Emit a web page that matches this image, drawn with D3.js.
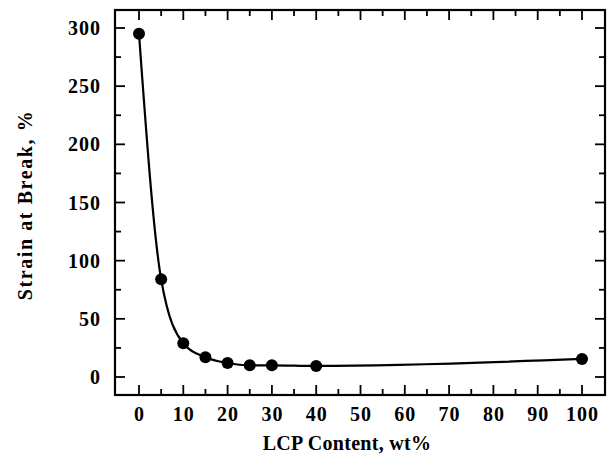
<!DOCTYPE html>
<html>
<head>
<meta charset="utf-8">
<script src="https://cdn.jsdelivr.net/npm/d3@7"></script>
<style>
  html, body { margin: 0; padding: 0; background: #fff; }
  svg text { font-family: "Liberation Serif", "DejaVu Serif", serif; font-weight: bold; fill: #000; }
</style>
</head>
<body>
<svg id="chart" width="613" height="467"></svg>
<script>
// LCP content (wt%) and strain at break (%)
const lcpContent = [0, 5, 10, 15, 20, 25, 30, 40, 100];
const strainAtBreak = [295, 84, 29, 17, 12, 10, 10, 9.5, 15.5];
const xTickValues = [0, 10, 20, 30, 40, 50, 60, 70, 80, 90, 100];
const yTickValues = [0, 50, 100, 150, 200, 250, 300];

const svg = d3.select("#chart");
const frame = { left: 115, right: 605, top: 10, bottom: 395 };

const x = d3.scaleLinear().domain([0, 100]).range([139, 582]);
const y = d3.scaleLinear().domain([0, 300]).range([377, 28]);

const xMinor = d3.range(5, 100, 10);
const yMinor = d3.range(25, 300, 50);

const g = svg.append("g");

// inward ticks on all four sides
function vTicks(vals, len, yEdge, dir) {
  g.selectAll(null).data(vals).enter().append("line")
    .attr("x1", d => x(d)).attr("x2", d => x(d))
    .attr("y1", yEdge).attr("y2", yEdge + dir * len)
    .attr("stroke", "#000").attr("stroke-width", 1.8);
}
function hTicks(vals, len, xEdge, dir) {
  g.selectAll(null).data(vals).enter().append("line")
    .attr("y1", d => y(d)).attr("y2", d => y(d))
    .attr("x1", xEdge).attr("x2", xEdge + dir * len)
    .attr("stroke", "#000").attr("stroke-width", 1.8);
}
vTicks(xTickValues, 10, frame.bottom, -1);
vTicks(xMinor, 6, frame.bottom, -1);
vTicks(xTickValues, 10, frame.top, 1);
vTicks(xMinor, 6, frame.top, 1);
hTicks(yTickValues, 10, frame.left, 1);
hTicks(yMinor, 6, frame.left, 1);
hTicks(yTickValues, 10, frame.right, -1);
hTicks(yMinor, 6, frame.right, -1);

// plot frame
g.append("rect")
  .attr("x", frame.left).attr("y", frame.top)
  .attr("width", frame.right - frame.left).attr("height", frame.bottom - frame.top)
  .attr("fill", "none").attr("stroke", "#000").attr("stroke-width", 2.2);

// tick labels
g.selectAll(null).data(xTickValues).enter().append("text")
  .attr("x", d => x(d) + 0.5).attr("y", 421)
  .attr("text-anchor", "middle")
  .style("font-size", "20px").style("letter-spacing", "1px")
  .text(d => d);

g.selectAll(null).data(yTickValues).enter().append("text")
  .attr("x", 101).attr("y", d => y(d) + 7)
  .attr("text-anchor", "end")
  .style("font-size", "20px").style("letter-spacing", "1px")
  .text(d => d);

// axis titles
g.append("text")
  .attr("x", 347).attr("y", 450)
  .attr("text-anchor", "middle")
  .style("font-size", "20px").style("letter-spacing", "0.3px")
  .text("LCP Content, wt%");

g.append("text")
  .attr("transform", "translate(32,205) rotate(-90)")
  .attr("text-anchor", "middle")
  .style("font-size", "20px").style("letter-spacing", "1.6px")
  .text("Strain at Break, %");

// data curve and markers
const pts = lcpContent.map((d, i) => [d, strainAtBreak[i]]);
const line = d3.line()
  .x(d => x(d[0])).y(d => y(d[1]))
  .curve(d3.curveMonotoneX);

g.append("path")
  .attr("d", line(pts))
  .attr("fill", "none").attr("stroke", "#000").attr("stroke-width", 2.2);

g.selectAll(null).data(pts).enter().append("circle")
  .attr("cx", d => x(d[0])).attr("cy", d => y(d[1]))
  .attr("r", 6).attr("fill", "#000");
</script>
</body>
</html>
